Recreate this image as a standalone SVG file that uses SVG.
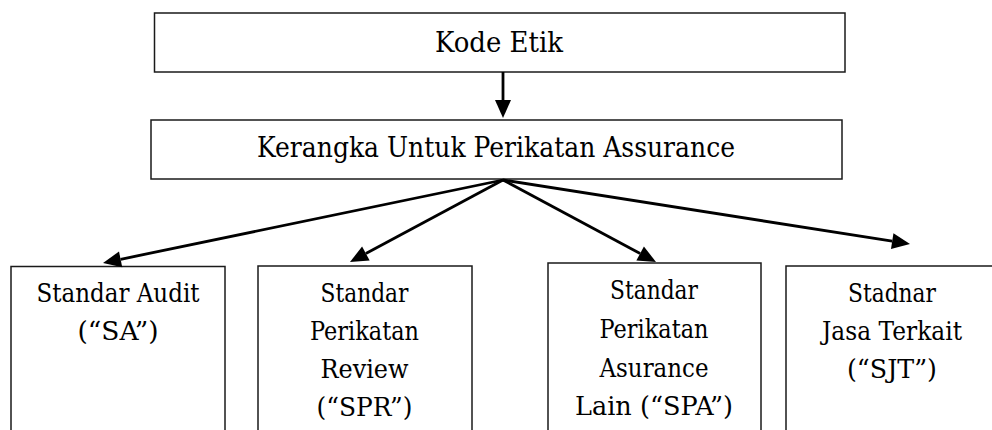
<svg xmlns="http://www.w3.org/2000/svg" width="992" height="430" viewBox="0 0 992 430">
  <style>
    .box { fill: #ffffff; stroke: #1a1a1a; stroke-width: 1.5; }
    text { fill: #000000; text-anchor: middle; font-family: 'DejaVu Serif', serif; }
    .big { font-size: 27.5px; }
    .small { font-size: 26.5px; }
    .link { stroke: #000000; stroke-width: 2.8; fill: none; }
    .head { fill: #000000; stroke: none; }
  </style>
  <rect width="992" height="430" fill="#ffffff"/>

  <g id="kode-etik">
    <rect class="box" x="154.5" y="13" width="690.5" height="59"/>
    <text class="big" x="499" y="52" textLength="128" lengthAdjust="spacingAndGlyphs">Kode Etik</text>
  </g>

  <g id="kerangka">
    <rect class="box" x="151" y="120" width="691" height="59"/>
    <text class="big" x="496" y="157" textLength="478" lengthAdjust="spacingAndGlyphs">Kerangka Untuk Perikatan Assurance</text>
  </g>

  <g id="sa">
    <rect class="box" x="11" y="266.5" width="214" height="170"/>
    <text class="small" x="118" y="302" textLength="163" lengthAdjust="spacingAndGlyphs">Standar Audit</text>
    <text class="small" x="118" y="340" textLength="81" lengthAdjust="spacingAndGlyphs">(“SA”)</text>
  </g>

  <g id="spr">
    <rect class="box" x="258" y="266" width="214" height="170"/>
    <text class="small" x="364.5" y="302" textLength="88" lengthAdjust="spacingAndGlyphs">Standar</text>
    <text class="small" x="364.5" y="340" textLength="109" lengthAdjust="spacingAndGlyphs">Perikatan</text>
    <text class="small" x="364.5" y="378" textLength="88" lengthAdjust="spacingAndGlyphs">Review</text>
    <text class="small" x="364.5" y="416" textLength="96" lengthAdjust="spacingAndGlyphs">(“SPR”)</text>
  </g>

  <g id="spa">
    <rect class="box" x="548" y="263" width="213" height="170"/>
    <text class="small" x="654" y="299" textLength="88" lengthAdjust="spacingAndGlyphs">Standar</text>
    <text class="small" x="654" y="338" textLength="109" lengthAdjust="spacingAndGlyphs">Perikatan</text>
    <text class="small" x="654" y="377" textLength="109" lengthAdjust="spacingAndGlyphs">Asurance</text>
    <text class="small" x="654" y="415" textLength="158" lengthAdjust="spacingAndGlyphs">Lain (“SPA”)</text>
  </g>

  <g id="sjt">
    <rect class="box" x="786" y="266" width="212" height="170"/>
    <text class="small" x="892" y="302" textLength="88" lengthAdjust="spacingAndGlyphs">Stadnar</text>
    <text class="small" x="892" y="340" textLength="140" lengthAdjust="spacingAndGlyphs">Jasa Terkait</text>
    <text class="small" x="892" y="378" textLength="90" lengthAdjust="spacingAndGlyphs">(“SJT”)</text>
  </g>

  <!-- connectors: shafts end at the base of each head; heads drawn as rotated triangles -->
  <g id="connectors">
    <line class="link" x1="503" y1="72" x2="503" y2="101"/>
    <path class="head" d="M0,0 L-18,-8 L-18,8 z" transform="translate(503,118) rotate(90)"/>

    <line class="link" x1="503" y1="180" x2="120.6" y2="259.3"/>
    <path class="head" d="M0,0 L-18,-8 L-18,8 z" transform="translate(103,263) rotate(168.3)"/>

    <line class="link" x1="503" y1="180" x2="365.9" y2="253.5"/>
    <path class="head" d="M0,0 L-18,-8 L-18,8 z" transform="translate(350,262) rotate(151.8)"/>

    <line class="link" x1="503" y1="180" x2="640.1" y2="253.5"/>
    <path class="head" d="M0,0 L-18,-8 L-18,8 z" transform="translate(656,262) rotate(28.2)"/>

    <line class="link" x1="503" y1="180" x2="892.2" y2="241.2"/>
    <path class="head" d="M0,0 L-18,-8 L-18,8 z" transform="translate(910,244) rotate(8.9)"/>
  </g>
</svg>
